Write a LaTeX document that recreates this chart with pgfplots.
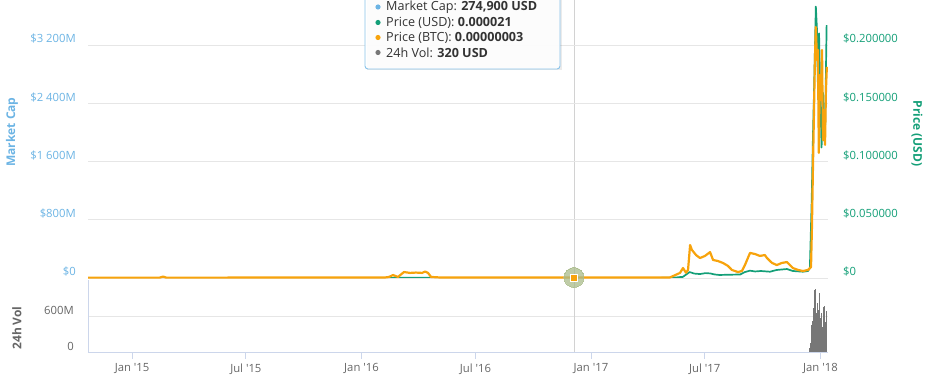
\documentclass[border=0pt]{standalone}
\usepackage{pgfplots}
\pgfplotsset{compat=1.18}
\usepackage{fontspec}
\setmainfont{Open Sans}
\definecolor{mcblue}{HTML}{6CB4E4}
\definecolor{usdgreen}{HTML}{149F78}
\definecolor{btcorange}{HTML}{F7A30C}
\definecolor{gridc}{HTML}{E6E6E6}
\definecolor{axc}{HTML}{CCD6EB}
\definecolor{labc}{HTML}{666666}
\definecolor{volgray}{HTML}{777777}
\definecolor{halo}{HTML}{A9BB8A}

\pgfplotstableread{
year price
2014.808 0.00002
2015.500 0.00002
2016.100 0.00005
2016.137 0.00012
2016.185 0.00030
2016.290 0.00030
2016.340 0.00006
2016.926 0.000021
2017.300 0.00010
2017.370 0.00040
2017.388 0.00080
2017.400 0.00090
2017.430 0.00510
2017.450 0.00380
2017.475 0.00340
2017.500 0.00420
2017.520 0.00390
2017.540 0.00300
2017.560 0.00260
2017.600 0.00280
2017.650 0.00300
2017.671 0.00510
2017.693 0.00630
2017.715 0.00560
2017.740 0.00600
2017.780 0.00540
2017.810 0.00690
2017.854 0.00770
2017.880 0.00600
2017.924 0.00540
2017.946 0.00600
2017.954 0.00860
2017.962 0.06700
2017.967 0.11800
2017.972 0.15900
2017.980 0.23300
2017.985 0.21300
2017.990 0.15300
2017.992 0.18700
2017.994 0.21000
2018.000 0.15300
2018.005 0.11200
2018.011 0.15900
2018.015 0.11800
2018.020 0.12400
2018.027 0.21700
}\usdtable

\pgfplotstableread{
year sat
2014.808 2
2015.120 2
2015.135 8
2015.150 2
2016.102 3
2016.120 6
2016.137 17
2016.159 6
2016.185 34
2016.211 29
2016.237 31
2016.264 29
2016.277 37
2016.290 29
2016.303 6
2016.342 3
2016.930 3
2017.344 3
2017.388 29
2017.401 57
2017.414 30
2017.423 46
2017.432 188
2017.440 160
2017.458 131
2017.475 114
2017.497 126
2017.519 148
2017.532 103
2017.553 97
2017.575 86
2017.597 69
2017.614 46
2017.641 34
2017.658 40
2017.671 74
2017.693 143
2017.715 137
2017.736 126
2017.758 131
2017.767 114
2017.789 86
2017.810 74
2017.832 86
2017.854 91
2017.880 57
2017.902 46
2017.924 40
2017.946 46
2017.959 63
2017.963 291
2017.967 600
2017.972 959
2017.976 1245
2017.980 1433
2017.985 1245
2017.989 1302
2017.993 714
2017.998 1159
2018.002 1016
2018.007 1302
2018.011 788
2018.015 959
2018.020 760
2018.024 1073
2018.028 1205
}\btctable

\pgfplotstableread{
year vol
2017.950 10
2017.953 60
2017.956 150
2017.959 350
2017.962 450
2017.964 520
2017.967 450
2017.970 730
2017.973 1030
2017.975 700
2017.978 1050
2017.981 650
2017.984 600
2017.986 820
2017.989 700
2017.992 480
2017.995 600
2017.997 980
2018.000 560
2018.003 590
2018.006 650
2018.008 420
2018.011 750
2018.014 580
2018.016 400
2018.019 760
2018.022 500
2018.025 690
2018.027 600
}\voltable

\pgfplotsset{
  base/.style={scale only axis, width=740pt, anchor=south west,
    xmin=2014.808, xmax=2018.033,
    /pgf/number format/assume math mode=true,
    tick label style={font=\fontsize{11.3}{13}\selectfont},
    major tick length=0pt},
}

\begin{document}
\begin{tikzpicture}[x=1pt,y=1pt]
% volume panel
\begin{axis}[base, at={(88pt,34pt)}, height=72pt, clip=false,
  ymin=0, ymax=1200, ytick={0,600}, yticklabels={0,600M},
  ymajorgrids, grid style={gridc, line width=0.8pt},
  axis x line*=bottom, axis y line*=left,
  axis line style={axc, line width=0.8pt},
  xtick={2015,2015.496,2016,2016.497,2017,2017.496,2018},
  xticklabels={Jan \textquotesingle 15,Jul \textquotesingle 15,Jan \textquotesingle 16,Jul \textquotesingle 16,Jan \textquotesingle 17,Jul \textquotesingle 17,Jan \textquotesingle 18},
  major tick length=7pt,
  xtick style={draw=axc, line width=0.8pt},
  ytick style={draw=none},
  x tick label style={labc, yshift=-1pt},
  xtick pos=bottom, ytick pos=left,
  tick align=outside,
  yticklabel style={labc, inner sep=0pt, xshift=-7pt, yshift=6pt},
  ylabel={\bfseries 24h Vol}, ylabel style={labc, font=\fontsize{12}{14}\selectfont, at={(axis description cs:-0.096,0.333)}, anchor=center},
]
\draw[gray!35, line width=0.8pt] (axis cs:2016.926,0) -- (axis cs:2016.926,5867);
\addplot[ycomb, volgray, line width=0.7pt, mark=none] table[x=year,y=vol] {\voltable};
\end{axis}
% market cap axis (left)
\begin{axis}[base, at={(88pt,108pt)}, height=278pt,
  ymin=0, ymax=3818, ytick={0,800,1600,2400,3200},
  yticklabels={\$0,\$800M,\$1 600M,\$2 400M,\$3 200M},
  ymajorgrids, grid style={gridc, line width=0.8pt},
  axis line style={draw=none}, xtick=\empty, ytick pos=left,
  yticklabel style={mcblue, inner sep=0pt, xshift=-12pt, yshift=6pt},
  ylabel={\bfseries Market Cap}, ylabel style={mcblue, font=\fontsize{12}{14}\selectfont, at={(axis description cs:-0.1027,0.525)}, anchor=center},
]
\end{axis}
% price USD axis (right)
\begin{axis}[base, at={(88pt,108pt)}, height=278pt,
  ymin=0, ymax=0.2386, ytick={0,0.05,0.1,0.15,0.2},
  yticklabels={\$0,\$0.050000,\$0.100000,\$0.150000,\$0.200000},
  axis line style={draw=none}, xtick=\empty,
  axis y line*=right, ytick pos=right,
  yticklabel style={usdgreen, inner sep=0pt, xshift=15pt, yshift=6pt},
  ylabel={\bfseries Price (USD)}, ylabel style={usdgreen, font=\fontsize{12}{14}\selectfont, at={(axis description cs:1.1203,0.52)}, anchor=center, rotate=180},
]
\addplot[usdgreen, line width=1.7pt, line join=round, mark=none] table[x=year,y=price] {\usdtable};
\end{axis}
% price BTC axis (hidden)
\begin{axis}[base, at={(88pt,108pt)}, height=278pt, hide axis, clip=false,
  ymin=0, ymax=1587]
\addplot[btcorange, line width=2.2pt, line join=round, mark=none] table[x=year,y=sat] {\btctable};
\addplot[only marks, color=halo, mark=*, mark size=10pt, opacity=0.75, mark options={draw=halo, fill=halo, line width=0pt}] coordinates {(2016.926,3)};
\addplot[only marks, color=btcorange, mark=square*, mark size=3.6pt, mark options={draw=white, fill=btcorange, line width=0.6pt}] coordinates {(2016.926,3)};
\end{axis}
% tooltip
\fill[black, opacity=0.08] (366.5pt,315.5pt) rectangle (561.5pt,400pt);
\filldraw[fill=white, fill opacity=0.92, draw=mcblue!80, line width=0.9pt, rounded corners=3pt] (365pt,317pt) rectangle (560pt,400pt);
\begin{scope}[font=\fontsize{12.6}{14}\selectfont, text=black!80]
\fill[mcblue] (378pt,379pt) circle (2.6pt);
\node[anchor=west, inner sep=0pt] at (386pt,379pt) {Market Cap: \textbf{274,900 USD}};
\fill[usdgreen] (378pt,363.5pt) circle (2.6pt);
\node[anchor=west, inner sep=0pt] at (386pt,363.5pt) {Price (USD): \textbf{0.000021}};
\fill[btcorange] (378pt,348.5pt) circle (2.6pt);
\node[anchor=west, inner sep=0pt] at (386pt,348.5pt) {Price (BTC): \textbf{0.00000003}};
\fill[volgray] (378pt,333.5pt) circle (2.6pt);
\node[anchor=west, inner sep=0pt] at (386pt,333.5pt) {24h Vol: \textbf{320 USD}};
\end{scope}
\pgfresetboundingbox
\path[use as bounding box] (0pt,0pt) rectangle (930pt,386pt);
\end{tikzpicture}
\end{document}
